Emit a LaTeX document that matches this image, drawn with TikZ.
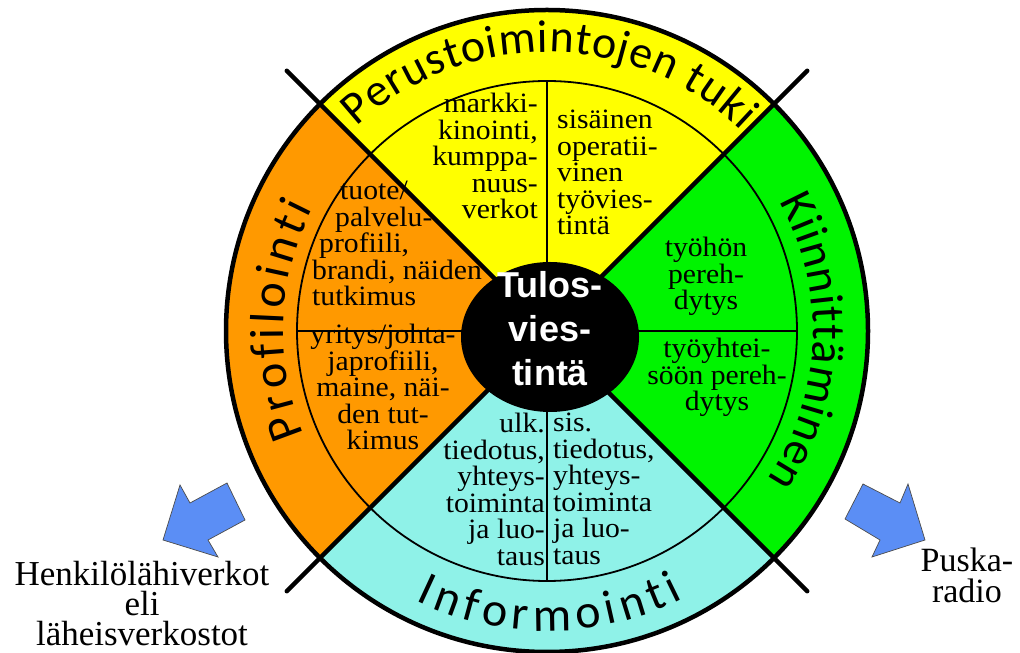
\documentclass[tikz,border=0pt]{standalone}
\usepackage{fontspec}
\usetikzlibrary{shapes.geometric,decorations.text}
\newfontfamily\ringfont{Carlito}
\newfontfamily\txtfont{Liberation Serif}[FakeStretch=1.06]
\newfontfamily\outfont{Liberation Serif}
\newfontfamily\corefont{Liberation Sans}
\definecolor{secY}{HTML}{FFFF00}
\definecolor{secO}{HTML}{FF9900}
\definecolor{secG}{HTML}{00F400}
\definecolor{secC}{HTML}{8FF2E8}
\definecolor{arrowblue}{HTML}{5B8EF5}
\begin{document}
\begin{tikzpicture}[x=1pt,y=1pt,
  ringline/.style={line width=4.5pt},
  spoke/.style={line width=4.5pt, line cap=round},
  thinline/.style={line width=1.8pt},
  divline/.style={line width=1.3pt},
  cell/.style={font=\txtfont\fontsize{28}{26.5}\selectfont, inner sep=0pt, text=black},
  outside/.style={font=\outfont\fontsize{35}{30}\selectfont, inner sep=0pt, align=center, text=black},
  ringtext/.style={decorate, decoration={text along path, text align=fit to path, text={#1}}},
  blockarrow/.style={fill=arrowblue, draw=black!70, line width=0.7pt, line join=miter}
]
\fill[white] (0,0) rectangle (1020,653);
\useasboundingbox (0,0) rectangle (1020,653);

\begin{scope}[shift={(547,322)}]
  \fill[secY] (0,0) -- (45:321) arc[start angle=45,end angle=135,radius=321] -- cycle;
  \fill[secO] (0,0) -- (135:321) arc[start angle=135,end angle=225,radius=321] -- cycle;
  \fill[secC] (0,0) -- (225:321) arc[start angle=225,end angle=315,radius=321] -- cycle;
  \fill[secG] (0,0) -- (-45:321) arc[start angle=-45,end angle=45,radius=321] -- cycle;
  \draw[thinline] (0,0) circle[radius=250];
  \draw[divline] (90:250) -- (-90:250);
  \draw[divline] (180:250) -- (0:250);
  \draw[spoke] (45:368) -- (225:368);
  \draw[spoke] (135:368) -- (-45:368);
  \draw[ringline] (0,0) circle[radius=321];
  \path[ringtext={|\ringfont\fontsize{46}{46}\selectfont|Perustoimintojen tuki}] (133:279) arc[start angle=133,end angle=46,radius=279];
  \path[ringtext={|\ringfont\fontsize{48}{48}\selectfont|Profilointi}] (203:264) arc[start angle=203,end angle=152.5,radius=264];
  \path[ringtext={|\ringfont\fontsize{47}{47}\selectfont|Kiinnittäminen}] (29:266) arc[start angle=29,end angle=-34,radius=266];
  \path[ringtext={|\ringfont\fontsize{48}{48}\selectfont|Informointi}] (244:300) arc[start angle=244,end angle=297,radius=300];
\end{scope}

\node[ellipse, fill=black, minimum width=178pt, minimum height=150pt, inner sep=0pt] (core) at (550,316) {};
\node[font=\corefont\bfseries\fontsize{36}{44}\selectfont, text=white, align=center, inner sep=0pt] (coretext) at (550,324) {Tulos-\\vies-\\tintä};

\node[cell, align=right, anchor=north east] (yl) at (538,560) {markki-\\kinointi,\\kumppa-\\nuus-\\verkot};
\node[cell, align=left, anchor=north west] (yr) at (557,543) {sisäinen\\operatii-\\vinen\\työvies-\\tintä};
\node[cell, align=left, anchor=north west] (ou) at (312,472) {\hspace*{28pt}tuote/\\\hspace*{23pt}palvelu-\\\hspace*{7pt}profiili,\\brandi, näiden\\tutkimus};
\node[cell, align=center, anchor=north] (ol) at (383,329) {yritys/johta-\\japrofiili,\\maine, näi-\\den tut-\\kimus};
\node[cell, align=center, anchor=north] (gu) at (706,416) {työhön\\pereh-\\dytys};
\node[cell, align=center, anchor=north] (gl) at (717,315) {työyhtei-\\söön pereh-\\dytys};
\node[cell, align=right, anchor=north east] (cl) at (545,240) {ulk.\\tiedotus,\\yhteys-\\toiminta\\ja luo-\\taus};
\node[cell, align=left, anchor=north west] (cr) at (553,240) {sis.\\tiedotus,\\yhteys-\\toiminta\\ja luo-\\taus};

\draw[blockarrow] (163,113) -- (180,168) -- (190,150) -- (227,170) -- (245,133) -- (208,113) -- (218,96) -- cycle;
\draw[blockarrow] (925,113) -- (908,169) -- (900,150) -- (863,169) -- (845,134) -- (880,113) -- (872,96) -- cycle;

\node[outside, anchor=north] (henk) at (142,92) {Henkilölähiverkot\\eli\\läheisverkostot};
\node[outside, font=\outfont\fontsize{34}{31}\selectfont, anchor=north] (puska) at (967,105) {Puska-\\radio};
\end{tikzpicture}
\end{document}
